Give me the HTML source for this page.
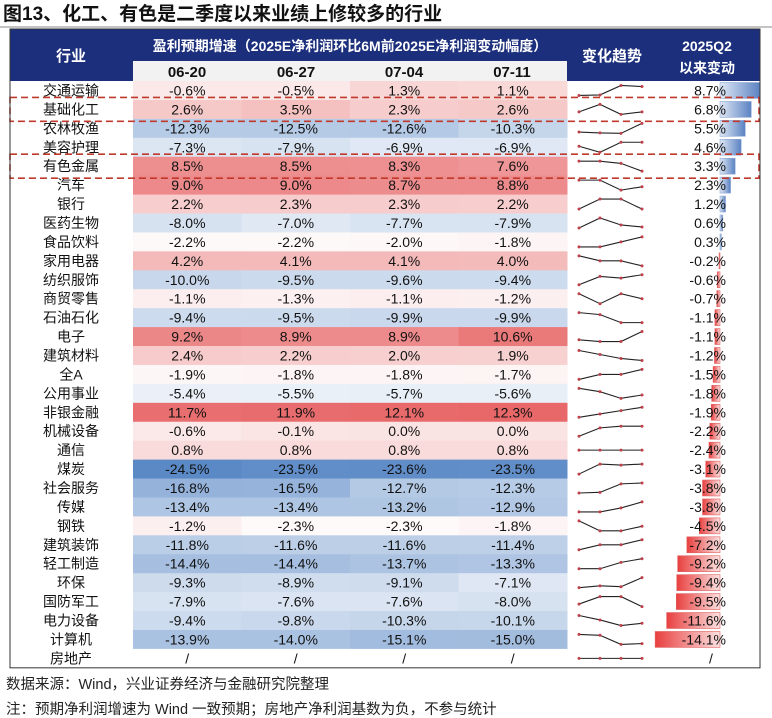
<!DOCTYPE html>
<html><head><meta charset="utf-8">
<style>
body{margin:0;background:#fff;width:772px;height:718px;overflow:hidden;font-family:"Liberation Sans","Noto Sans CJK SC",sans-serif;}
svg{display:block}
</style></head>
<body>
<svg id="chart" width="772" height="718" xmlns="http://www.w3.org/2000/svg" font-family="Liberation Sans, Noto Sans CJK SC, sans-serif">
<defs>
<linearGradient id="gBlue" x1="0" x2="1" y1="0" y2="0"><stop offset="0" stop-color="#dfe8f5"/><stop offset="1" stop-color="#5b82c2"/></linearGradient>
<linearGradient id="gRed" x1="0" x2="1" y1="0" y2="0"><stop offset="0" stop-color="#e8403f"/><stop offset="1" stop-color="#fbe0e0"/></linearGradient>
</defs>
<text x="3" y="20" font-size="19" font-weight="bold" fill="#111">图13、化工、有色是二季度以来业绩上修较多的行业</text>
<line x1="0" y1="27" x2="772" y2="27" stroke="#888" stroke-width="1"/>
<rect x="10" y="29" width="750" height="52" fill="#1c2f7c"/>
<rect x="133" y="61" width="434" height="20" fill="#f2f2f2"/>
<g font-weight="bold" fill="#fff" text-anchor="middle">
<text x="71" y="61" font-size="15">行业</text>
<text x="350" y="51" font-size="14">盈利预期增速（2025E净利润环比6M前2025E净利润变动幅度）</text>
<text x="612" y="61" font-size="15">变化趋势</text>
<text x="707" y="51" font-size="14">2025Q2</text>
<text x="707" y="73" font-size="14">以来变动</text>
</g>
<g id="body"></g>
<text x="6" y="689" font-size="14.5" fill="#222">数据来源：Wind，兴业证券经济与金融研究院整理</text>
<text x="6" y="714" font-size="14.5" fill="#222">注：预期净利润增速为 Wind 一致预期；房地产净利润基数为负，不参与统计</text>
</svg>
<script>
const industries=["交通运输","基础化工","农林牧渔","美容护理","有色金属","汽车","银行","医药生物","食品饮料","家用电器","纺织服饰","商贸零售","石油石化","电子","建筑材料","全A","公用事业","非银金融","机械设备","通信","煤炭","社会服务","传媒","钢铁","建筑装饰","轻工制造","环保","国防军工","电力设备","计算机","房地产"];
const dates=["06-20","06-27","07-04","07-11"];
const v0620=[-0.6,2.6,-12.3,-7.3,8.5,9.0,2.2,-8.0,-2.2,4.2,-10.0,-1.1,-9.4,9.2,2.4,-1.9,-5.4,11.7,-0.6,0.8,-24.5,-16.8,-13.4,-1.2,-11.8,-14.4,-9.3,-7.9,-9.4,-13.9,null];
const v0627=[-0.5,3.5,-12.5,-7.9,8.5,9.0,2.3,-7.0,-2.2,4.1,-9.5,-1.3,-9.5,8.9,2.2,-1.8,-5.5,11.9,-0.1,0.8,-23.5,-16.5,-13.4,-2.3,-11.6,-14.4,-8.9,-7.6,-9.8,-14.0,null];
const v0704=[1.3,2.3,-12.6,-6.9,8.3,8.7,2.3,-7.7,-2.0,4.1,-9.6,-1.1,-9.9,8.9,2.0,-1.8,-5.7,12.1,0.0,0.8,-23.6,-12.7,-13.2,-2.3,-11.6,-13.7,-9.1,-7.6,-10.3,-15.1,null];
const v0711=[1.1,2.6,-10.3,-6.9,7.6,8.8,2.2,-7.9,-1.8,4.0,-9.4,-1.2,-9.9,10.6,1.9,-1.7,-5.6,12.3,0.0,0.8,-23.5,-12.3,-12.9,-1.8,-11.4,-13.3,-7.1,-8.0,-10.1,-15.0,null];
const q2Change=[8.7,6.8,5.5,4.6,3.3,2.3,1.2,0.6,0.3,-0.2,-0.6,-0.7,-1.1,-1.1,-1.2,-1.5,-1.8,-1.9,-2.2,-2.4,-3.1,-3.8,-3.8,-4.5,-7.2,-9.2,-9.4,-9.5,-11.6,-14.1,null];
const highlighted=["基础化工","有色金属"];

const NS="http://www.w3.org/2000/svg";
const body=document.getElementById('body');
const top0=81, rowH=18.93;
const colX=[133,241.5,350,458.5,567];
const yRow=i=>top0+i*rowH;
const mid=-2.8,maxV=12.3,minV=-24.5;
function heat(v){
  if(v==null) return "#ffffff";
  let r,g,b;
  if(v>=mid){const t=Math.min(1,(v-mid)/(maxV-mid));r=255-(255-232)*t;g=255-(255-104)*t;b=255-(255-106)*t;}
  else{const t=Math.min(1,(mid-v)/(mid-minV));r=255-(255-90)*t;g=255-(255-137)*t;b=255-(255-198)*t;}
  return `rgb(${r|0},${g|0},${b|0})`;
}
function mk(tag,attrs,txt){const e=document.createElementNS(NS,tag);for(const k in attrs)e.setAttribute(k,attrs[k]);if(txt!=null)e.textContent=txt;body.appendChild(e);return e;}
const zeroX=720, pxPerUnit=4.6;
const xBar=v=>zeroX+v*pxPerUnit;
const series=[v0620,v0627,v0704,v0711];
industries.forEach((name,i)=>{
  const y=yRow(i), cy=y+rowH/2;
  let t=mk('text',{x:71,y:cy+5,'font-size':14,'text-anchor':'middle',fill:'#111'},name);
  
  
  series.forEach((s,j)=>{
    const v=s[i];
    let r=mk('rect',{x:colX[j],y:y,width:colX[j+1]-colX[j]+0.5,height:rowH+0.5,fill:heat(v)});
    
    
    let tx=mk('text',{x:(colX[j]+colX[j+1])/2,y:cy+5,'font-size':14,'text-anchor':'middle',fill:'#111'},v==null?'/':v.toFixed(1)+'%');
    
    
  });
  const vals=series.map(s=>s[i]);
  const sx=[579,600,621,642];
  let ys;
  if(vals[0]==null){ys=[cy,cy,cy,cy];}
  else{const mn=Math.min(...vals),mx=Math.max(...vals);ys=vals.map(v=>mx===mn?cy:cy+5-(v-mn)/(mx-mn)*10);}
  let pl=mk('polyline',{points:sx.map((x,k)=>x+','+ys[k]).join(' '),fill:'none',stroke:'#222','stroke-width':1.1});
  
  
  sx.forEach((x,k)=>{let c=mk('circle',{cx:x,cy:ys[k],r:1.5,fill:'#c0404a'});});
  const q=q2Change[i];
  if(q!=null){
    const x0=Math.min(xBar(q),zeroX),w=Math.abs(xBar(q)-zeroX);
    let b=mk('rect',{x:x0,y:y+1.5,width:w,height:rowH-3,fill:q>=0?'url(#gBlue)':'url(#gRed)',stroke:q>=0?'#8fa8d6':'#e06060','stroke-width':0.6});
    
    
  }
  let qt=mk('text',{x:q==null?711:726,y:cy+5,'font-size':14,'text-anchor':q==null?'middle':'end',fill:'#111'},q==null?'/':q.toFixed(1)+'%');
  
  
});
industries.forEach((name,i)=>{
  if(highlighted.includes(name)){
    let h=mk('rect',{x:10,y:yRow(i)-2.5,width:749,height:rowH+5,fill:'none',stroke:'#c0392b','stroke-width':1.6,'stroke-dasharray':'7,4'});
    
    
  }
});
let bd=mk('rect',{x:10,y:29,width:750,height:top0+industries.length*rowH-29,fill:'none',stroke:'#333','stroke-width':1});


(function(){
const svg=document.getElementById('chart');
const cx=[187,296,404,512];
dates.forEach((d,j)=>{const t=document.createElementNS(NS,'text');t.setAttribute('x',cx[j]);t.setAttribute('y',77);t.setAttribute('font-size',15);t.setAttribute('font-weight','bold');t.setAttribute('text-anchor','middle');t.setAttribute('fill','#111');t.textContent=d;


svg.appendChild(t);});
})();
</script>
</body></html>
